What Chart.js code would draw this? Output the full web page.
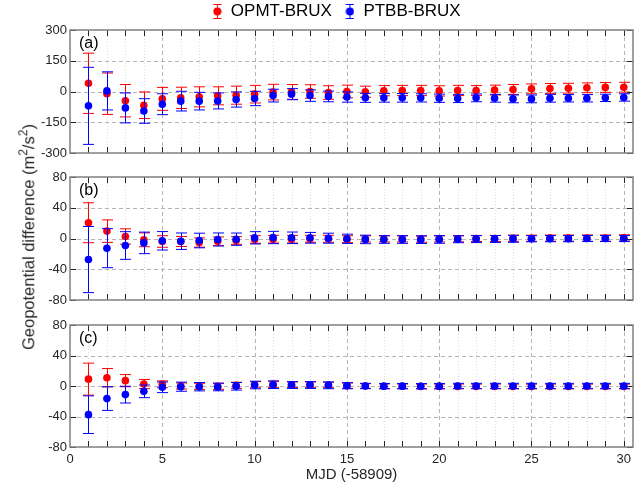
<!DOCTYPE html>
<html>
<head>
<meta charset="utf-8">
<title>Geopotential difference</title>
<script src="https://cdn.jsdelivr.net/npm/chart.js@4.4.1/dist/chart.umd.min.js"></script>
<style>
  body { margin: 0; background: #fff; }
  #wrap { position: relative; width: 642px; height: 487px; font-family: "Liberation Sans", Arial, sans-serif; }
  .panel { position: absolute; left: 0; width: 642px; }
  #ytitle {
    position: absolute; left: 27px; top: 237px;
    transform: translate(-50%, -50%) rotate(-90deg);
    white-space: nowrap; font-size: 16.5px; color: #262626;
  }
  #ytitle sup { font-size: 12px; }
</style>
</head>
<body>
<div id="wrap">
  <div class="panel" style="top:0;height:165px"><canvas id="chartA"></canvas></div>
  <div class="panel" style="top:165px;height:147px"><canvas id="chartB"></canvas></div>
  <div class="panel" style="top:312px;height:175px"><canvas id="chartC"></canvas></div>
  <div id="ytitle">Geopotential difference (m<sup>2</sup>/s<sup>2</sup>)</div>
</div>
<script>
// days since MJD 58909
const mjd = [1, 2, 3, 4, 5, 6, 7, 8, 9, 10, 11, 12, 13, 14, 15,
             16, 17, 18, 19, 20, 21, 22, 23, 24, 25, 26, 27, 28, 29, 30];

// panel (a)
const opmtA    = [40, -11, -45, -67, -36, -31, -26, -21, -18, -13, -3, -2, 0, -5, 0,
                  -1, 4, 5, 5, 3, 5, 5, 7, 10, 13, 15, 16, 18, 20, 21];
const opmtAErr = [147, 101, 79, 65, 56, 52, 49, 44, 44, 43, 38, 36, 33, 33, 31,
                  27, 25, 25, 25, 25, 25, 24, 24, 24, 24, 24, 24, 24, 24, 24];
const ptbbA    = [-70, 3, -80, -95, -62, -47, -47, -46, -39, -34, -20, -13, -20, -24, -27,
                  -31, -31, -31, -31, -33, -34, -31, -33, -36, -36, -33, -33, -33, -31, -29];
const ptbbAErr = [188, 93, 73, 60, 51, 48, 43, 39, 37, 35, 31, 27, 28, 26, 25,
                  22, 21, 21, 20, 20, 20, 19, 19, 19, 19, 19, 18, 18, 18, 18];

// panel (b)
const opmtB    = [20.5, 9.6, 2.6, -1.7, -3.9, -3.9, -5.2, -3.5, -2.6, -1.3, -0.9, -0.9, -0.4, -0.4, -0.9,
                  -0.5, -0.5, -0.5, -0.8, -0.5, -0.3, 0, 0, 0.3, 0.3, 0.5, 0.5, 0.5, 0.5, 0.8];
const opmtBErr = [26, 14.6, 10, 9, 7.5, 6.5, 6, 5.5, 5, 5, 5, 5, 4.5, 4.5, 4.5,
                  4, 4, 4, 4, 4, 4, 4, 4, 4, 4, 4, 4, 4, 4, 4];
const ptbbB    = [-27.4, -12.6, -9.1, -5.7, -3, -3.5, -2.6, -1.3, -0.9, 0.9, 1.3, 0.9, 0.9, 0.4, -0.4,
                  -1.2, -1.3, -1.3, -1.5, -1.2, -1, -0.8, -0.6, -0.4, -0.3, -0.2, -0.2, 0, 0, 0];
const ptbbBErr = [43, 25.4, 18, 14, 12, 10.7, 9.5, 8.5, 8, 8, 8, 7.5, 7, 6.5, 6,
                  5.5, 5, 5, 5, 5, 4.5, 4.5, 4.5, 4.5, 4, 4, 4, 4, 4, 4];

// panel (c)
const opmtC    = [9, 10.9, 7, 2.6, 2.2, 0, -0.4, -0.4, 0.9, 1.7, 2.2, 1.7, 1.7, 1.3, 0.4,
                  0, -0.3, -0.4, -0.5, -0.5, -0.5, -0.5, -0.5, -0.6, -0.6, -0.6, -0.6, -0.6, -0.6, -0.6];
const opmtCErr = [21, 12, 8, 6, 4.5, 4, 4, 4, 4, 4, 4, 3.5, 3.5, 3.5, 3.5,
                  3, 3, 3, 3, 3, 3, 3, 3, 3, 3, 3, 3, 3, 3, 3];
const ptbbC    = [-37.6, -16.5, -11.3, -7, -1.7, -0.9, -0.9, -1.3, -0.4, 1.3, 1.7, 1.3, 1.3, 0.9, 0.4,
                  0, -0.2, -0.2, -0.3, -0.2, 0, 0, 0, 0, 0, 0, 0, 0, 0, 0];
const ptbbCErr = [24.7, 15.5, 11, 8.3, 7, 6, 5.5, 5, 5, 5, 5, 4.5, 4.5, 4.5, 4,
                  3.5, 3.5, 3.5, 3.5, 3.5, 3.5, 3.5, 3.5, 3.5, 3.5, 3.5, 3.5, 3.5, 3.5, 3.5];

// tick labels
const xTicks = [0, 5, 10, 15, 20, 25, 30];
const yTicksA = [-300, -150, 0, 150, 300];
const yTicksBC = [-80, -40, 0, 40, 80];

const RED = '#ff0000';
const BLUE = '#0000ff';
const TEXT = '#262626';

Chart.defaults.font.family = '"Liberation Sans", Arial, sans-serif';

function points(values) {
  return mjd.map((d, i) => ({ x: d, y: values[i] }));
}

function series(label, color, values, errors, order) {
  return {
    label, order, errors,
    data: points(values),
    backgroundColor: color,
    borderColor: color,
    borderWidth: 0,
    pointRadius: 3.8,
    pointHoverRadius: 3.8
  };
}

// small errorbar glyph for the legend
function legendIcon(color) {
  const c = document.createElement('canvas');
  c.width = 9; c.height = 17;
  const g = c.getContext('2d');
  g.strokeStyle = color;
  g.fillStyle = color;
  g.lineWidth = 1;
  g.beginPath();
  g.moveTo(4.5, 1.5); g.lineTo(4.5, 15.5);
  g.moveTo(0.5, 1.5); g.lineTo(8.5, 1.5);
  g.moveTo(0.5, 15.5); g.lineTo(8.5, 15.5);
  g.stroke();
  g.beginPath();
  g.arc(4.5, 8.5, 4, 0, Math.PI * 2);
  g.fill();
  return c;
}

// grid, error bars, box with inward ticks and the panel letter
const panelFrame = {
  id: 'panelFrame',
  beforeDatasetsDraw(chart) {
    const { ctx, chartArea: a, scales: { x, y } } = chart;
    ctx.save();
    ctx.lineWidth = 1;
    for (let d = 1; d < x.max; d++) {
      const px = Math.round(x.getPixelForValue(d)) + 0.5;
      const major = xTicks.includes(d);
      ctx.strokeStyle = major ? '#b4b4b4' : '#dcdcdc';
      ctx.setLineDash(major ? [4, 3] : [1, 2]);
      ctx.beginPath();
      ctx.moveTo(px, a.top);
      ctx.lineTo(px, a.bottom);
      ctx.stroke();
    }
    ctx.strokeStyle = '#b4b4b4';
    ctx.setLineDash([4, 3]);
    y.ticks.forEach(t => {
      if (t.value <= y.min || t.value >= y.max) return;
      const py = Math.round(y.getPixelForValue(t.value)) + 0.5;
      ctx.beginPath();
      ctx.moveTo(a.left, py);
      ctx.lineTo(a.right, py);
      ctx.stroke();
    });
    ctx.restore();
  },
  beforeDatasetDraw(chart, args) {
    const ds = chart.data.datasets[args.index];
    if (!ds.errors) return;
    const { ctx, chartArea: a, scales: { y } } = chart;
    ctx.save();
    ctx.beginPath();
    ctx.rect(a.left, a.top, a.width, a.height);
    ctx.clip();
    ctx.strokeStyle = ds.borderColor;
    ctx.lineWidth = 1;
    args.meta.data.forEach((pt, i) => {
      const v = ds.data[i].y, e = ds.errors[i];
      const top = y.getPixelForValue(v + e);
      const bot = y.getPixelForValue(v - e);
      const px = Math.round(pt.x) + 0.5;
      ctx.beginPath();
      ctx.moveTo(px, top); ctx.lineTo(px, bot);
      ctx.moveTo(px - 5.5, top); ctx.lineTo(px + 5.5, top);
      ctx.moveTo(px - 5.5, bot); ctx.lineTo(px + 5.5, bot);
      ctx.stroke();
    });
    ctx.restore();
  },
  afterDatasetsDraw(chart, args, opts) {
    const { ctx, chartArea: a, scales: { x, y } } = chart;
    const len = 6;
    ctx.save();
    ctx.strokeStyle = TEXT;
    ctx.lineWidth = 1;
    ctx.beginPath();
    for (let d = 1; d < x.max; d++) {
      const px = Math.round(x.getPixelForValue(d)) + 0.5;
      ctx.moveTo(px, a.top); ctx.lineTo(px, a.top + len);
      ctx.moveTo(px, a.bottom); ctx.lineTo(px, a.bottom - len);
    }
    y.ticks.forEach(t => {
      const py = Math.round(y.getPixelForValue(t.value)) + 0.5;
      ctx.moveTo(a.left, py); ctx.lineTo(a.left + len, py);
      ctx.moveTo(a.right, py); ctx.lineTo(a.right - len, py);
    });
    ctx.stroke();

    ctx.strokeStyle = '#808080';
    ctx.lineWidth = 1.5;
    ctx.strokeRect(a.left, a.top, a.right - a.left, a.bottom - a.top);

    if (opts.label) {
      ctx.fillStyle = '#000';
      ctx.font = '16px "Liberation Sans", Arial, sans-serif';
      ctx.textAlign = 'left';
      ctx.textBaseline = 'middle';
      ctx.fillText(opts.label, a.left + 9, a.top + 14);
    }
    ctx.restore();
  }
};

function makePanel(id, cfg) {
  const legend = cfg.legend ? {
    display: true,
    position: 'top',
    align: 'center',
    fullSize: true,
    labels: {
      usePointStyle: true,
      pointStyleWidth: 10,
      padding: 13,
      color: '#000',
      font: { size: 17 },
      generateLabels(chart) {
        return chart.data.datasets.map((ds, i) => ({
          text: ds.label,
          datasetIndex: i,
          hidden: false,
          pointStyle: legendIcon(ds.borderColor),
          fillStyle: ds.backgroundColor,
          strokeStyle: ds.borderColor,
          lineWidth: 0,
          fontColor: '#000'
        }));
      }
    }
  } : { display: false };

  return new Chart(document.getElementById(id), {
    type: 'scatter',
    data: {
      datasets: [
        series('OPMT-BRUX', RED, cfg.opmt, cfg.opmtErr, 2),
        series('PTBB-BRUX', BLUE, cfg.ptbb, cfg.ptbbErr, 1)
      ]
    },
    options: {
      responsive: true,
      maintainAspectRatio: false,
      animation: false,
      events: [],
      layout: { padding: cfg.padding },
      plugins: {
        legend,
        tooltip: { enabled: false },
        panelFrame: { label: cfg.label }
      },
      scales: {
        x: {
          type: 'linear',
          min: 0,
          max: 30.5,
          display: cfg.showX,
          grid: { display: false, drawTicks: false },
          border: { display: false },
          afterBuildTicks: s => { s.ticks = xTicks.map(v => ({ value: v })); },
          afterFit: s => { if (cfg.showX) s.height = 40; },
          ticks: { color: TEXT, font: { size: 13 }, padding: 5, maxRotation: 0, autoSkip: false },
          title: {
            display: cfg.showX,
            text: 'MJD (-58909)',
            color: TEXT,
            font: { size: 15 },
            padding: { top: 0, bottom: 3 }
          }
        },
        y: {
          type: 'linear',
          min: cfg.yTicks[0],
          max: cfg.yTicks[cfg.yTicks.length - 1],
          grid: { display: false, drawTicks: false },
          border: { display: false },
          afterBuildTicks: s => { s.ticks = cfg.yTicks.map(v => ({ value: v })); },
          afterFit: s => { s.width = 30; },
          ticks: { color: TEXT, font: { size: 13 }, padding: 3 }
        }
      }
    },
    plugins: [panelFrame]
  });
}

makePanel('chartA', {
  label: '(a)', legend: true, showX: false, yTicks: yTicksA,
  opmt: opmtA, opmtErr: opmtAErr, ptbb: ptbbA, ptbbErr: ptbbAErr,
  padding: { top: -10, bottom: 12, left: 40, right: 9 }
});

makePanel('chartB', {
  label: '(b)', legend: false, showX: false, yTicks: yTicksBC,
  opmt: opmtB, opmtErr: opmtBErr, ptbb: ptbbB, ptbbErr: ptbbBErr,
  padding: { top: 12, bottom: 12, left: 40, right: 9 }
});

makePanel('chartC', {
  label: '(c)', legend: false, showX: true, yTicks: yTicksBC,
  opmt: opmtC, opmtErr: opmtCErr, ptbb: ptbbC, ptbbErr: ptbbCErr,
  padding: { top: 13, bottom: 0, left: 40, right: 9 }
});
</script>
</body>
</html>
